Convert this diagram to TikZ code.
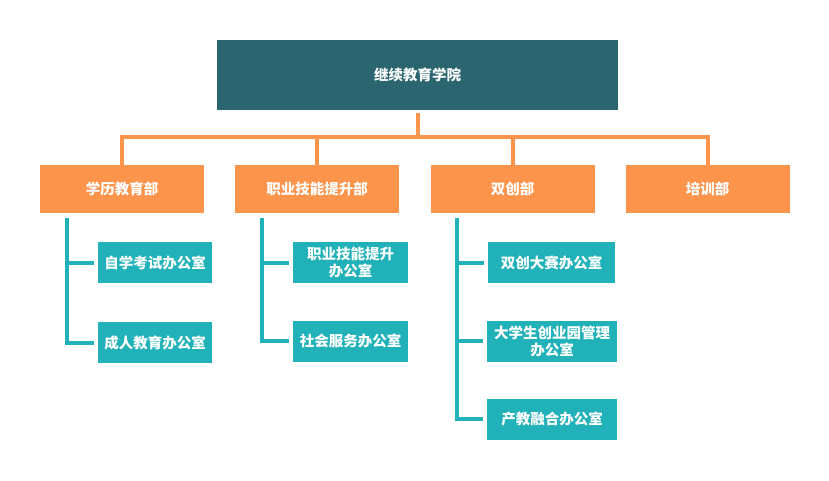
\documentclass[tikz,border=0pt]{standalone}
\usepackage{fontspec}
\newfontfamily\cjk{Noto Sans CJK SC}
\definecolor{topc}{HTML}{2B6670}
\definecolor{orc}{HTML}{FD944C}
\definecolor{tlc}{HTML}{21B1B8}
\begin{document}
\begin{tikzpicture}[x=1pt,y=-1pt,
  boxbase/.style={inner sep=0pt,align=center,text=white,font=\cjk\bfseries\fontsize{14.5}{17}\selectfont},
  topbox/.style={boxbase,fill=topc,minimum width=401pt,minimum height=70pt},
  deptbox/.style={boxbase,fill=orc,minimum width=164pt,minimum height=48pt},
  offbox/.style={boxbase,fill=tlc,minimum height=41pt},
  olink/.style={draw=orc,line width=4pt},
  tlink/.style={draw=tlc,line width=4pt}]
\useasboundingbox (0,0) rectangle (829,480);
\node[topbox] (top) at (417.5,75) {继续教育学院};
\node[deptbox] (d1) at (122,189) {学历教育部};
\node[deptbox] (d2) at (317,189) {职业技能提升部};
\node[deptbox] (d3) at (512.5,189) {双创部};
\node[deptbox] (d4) at (707.5,189) {培训部};
\node[offbox,minimum width=114pt] (o11) at (155,262.5) {自学考试办公室};
\node[offbox,minimum width=114pt] (o12) at (155,342.5) {成人教育办公室};
\node[offbox,minimum width=115pt] (o21) at (350.5,262.5) {职业技能提升\\办公室};
\node[offbox,minimum width=115pt] (o22) at (350.5,341) {社会服务办公室};
\node[offbox,minimum width=127pt] (o31) at (551.5,262.5) {双创大赛办公室};
\node[offbox,minimum width=130pt] (o32) at (552,341) {大学生创业园管理\\办公室};
\node[offbox,minimum width=130pt] (o33) at (552,419) {产教融合办公室};
% orange tree
\coordinate (hb) at (417.5,137);
\draw[olink] (top.south) ++(0,3) -- (hb);
\draw[olink,line cap=rect] (d1.north |- hb) -- (d4.north |- hb);
\foreach \d in {d1,d2,d3,d4} \draw[olink] (\d.north |- hb) -- ([yshift=-3pt]\d.north);
% teal branches
\coordinate (v1) at (67,218);
\draw[tlink] (v1) -- (v1 |- o12.west) -- ([xshift=-4pt]o12.west);
\draw[tlink] (v1 |- o11.west) -- ([xshift=-4pt]o11.west);
\coordinate (v2) at (262,218);
\draw[tlink] (v2) -- (v2 |- o22.west) -- ([xshift=-4pt]o22.west);
\draw[tlink] (v2 |- o21.west) -- ([xshift=-4pt]o21.west);
\coordinate (v3) at (457,218);
\draw[tlink] (v3) -- (v3 |- o33.west) -- ([xshift=-4pt]o33.west);
\draw[tlink] (v3 |- o31.west) -- ([xshift=-4pt]o31.west);
\draw[tlink] (v3 |- o32.west) -- ([xshift=-4pt]o32.west);
\end{tikzpicture}
\end{document}
